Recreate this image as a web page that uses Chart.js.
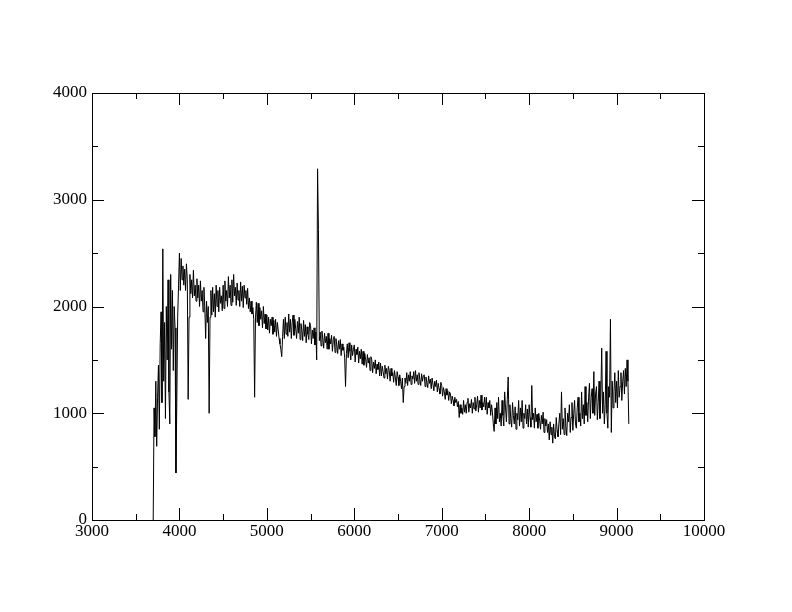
<!DOCTYPE html>
<html>
<head>
<meta charset="utf-8">
<script src="https://cdn.jsdelivr.net/npm/chart.js@4/dist/chart.umd.min.js"></script>
<style>
  html, body { margin: 0; padding: 0; background: #fff; }
  #spec { display: block; }
</style>
</head>
<body>
<canvas id="spec" width="792" height="612"></canvas>
<script>
// wavelength (Angstrom) and flux
const waves = [
  3700, 3710, 3720, 3730, 3740, 3750, 3760, 3770, 3780, 3790,
  3800, 3810, 3820, 3830, 3840, 3850, 3860, 3870, 3880, 3890,
  3900, 3910, 3920, 3930, 3940, 3950, 3960, 3970, 3980, 3990,
  4000, 4010, 4020, 4030, 4040, 4050, 4060, 4070, 4080, 4090,
  4100, 4110, 4120, 4130, 4140, 4150, 4160, 4170, 4180, 4190,
  4200, 4210, 4220, 4230, 4240, 4250, 4260, 4270, 4280, 4290,
  4300, 4310, 4320, 4330, 4340, 4350, 4360, 4370, 4380, 4390,
  4400, 4410, 4420, 4430, 4440, 4450, 4460, 4470, 4480, 4490,
  4500, 4510, 4520, 4530, 4540, 4550, 4560, 4570, 4580, 4590,
  4600, 4610, 4620, 4630, 4640, 4650, 4660, 4670, 4680, 4690,
  4700, 4710, 4720, 4730, 4740, 4750, 4760, 4770, 4780, 4790,
  4800, 4810, 4820, 4830, 4840, 4850, 4860, 4870, 4880, 4890,
  4900, 4910, 4920, 4930, 4940, 4950, 4960, 4970, 4980, 4990,
  5000, 5010, 5020, 5030, 5040, 5050, 5060, 5070, 5080, 5090,
  5100, 5110, 5120, 5130, 5140, 5150, 5160, 5170, 5180, 5190,
  5200, 5210, 5220, 5230, 5240, 5250, 5260, 5270, 5280, 5290,
  5300, 5310, 5320, 5330, 5340, 5350, 5360, 5370, 5380, 5390,
  5400, 5410, 5420, 5430, 5440, 5450, 5460, 5470, 5480, 5490,
  5500, 5510, 5520, 5530, 5540, 5550, 5560, 5570, 5580, 5590,
  5600, 5610, 5620, 5630, 5640, 5650, 5660, 5670, 5680, 5690,
  5700, 5710, 5720, 5730, 5740, 5750, 5760, 5770, 5780, 5790,
  5800, 5810, 5820, 5830, 5840, 5850, 5860, 5870, 5880, 5890,
  5900, 5910, 5920, 5930, 5940, 5950, 5960, 5970, 5980, 5990,
  6000, 6010, 6020, 6030, 6040, 6050, 6060, 6070, 6080, 6090,
  6100, 6110, 6120, 6130, 6140, 6150, 6160, 6170, 6180, 6190,
  6200, 6210, 6220, 6230, 6240, 6250, 6260, 6270, 6280, 6290,
  6300, 6310, 6320, 6330, 6340, 6350, 6360, 6370, 6380, 6390,
  6400, 6410, 6420, 6430, 6440, 6450, 6460, 6470, 6480, 6490,
  6500, 6510, 6520, 6530, 6540, 6550, 6560, 6570, 6580, 6590,
  6600, 6610, 6620, 6630, 6640, 6650, 6660, 6670, 6680, 6690,
  6700, 6710, 6720, 6730, 6740, 6750, 6760, 6770, 6780, 6790,
  6800, 6810, 6820, 6830, 6840, 6850, 6860, 6870, 6880, 6890,
  6900, 6910, 6920, 6930, 6940, 6950, 6960, 6970, 6980, 6990,
  7000, 7010, 7020, 7030, 7040, 7050, 7060, 7070, 7080, 7090,
  7100, 7110, 7120, 7130, 7140, 7150, 7160, 7170, 7180, 7190,
  7200, 7210, 7220, 7230, 7240, 7250, 7260, 7270, 7280, 7290,
  7300, 7310, 7320, 7330, 7340, 7350, 7360, 7370, 7380, 7390,
  7400, 7410, 7420, 7430, 7440, 7450, 7460, 7470, 7480, 7490,
  7500, 7510, 7520, 7530, 7540, 7550, 7560, 7570, 7580, 7590,
  7600, 7610, 7620, 7630, 7640, 7650, 7660, 7670, 7680, 7690,
  7700, 7710, 7720, 7730, 7740, 7750, 7760, 7770, 7780, 7790,
  7800, 7810, 7820, 7830, 7840, 7850, 7860, 7870, 7880, 7890,
  7900, 7910, 7920, 7930, 7940, 7950, 7960, 7970, 7980, 7990,
  8000, 8010, 8020, 8030, 8040, 8050, 8060, 8070, 8080, 8090,
  8100, 8110, 8120, 8130, 8140, 8150, 8160, 8170, 8180, 8190,
  8200, 8210, 8220, 8230, 8240, 8250, 8260, 8270, 8280, 8290,
  8300, 8310, 8320, 8330, 8340, 8350, 8360, 8370, 8380, 8390,
  8400, 8410, 8420, 8430, 8440, 8450, 8460, 8470, 8480, 8490,
  8500, 8510, 8520, 8530, 8540, 8550, 8560, 8570, 8580, 8590,
  8600, 8610, 8620, 8630, 8640, 8650, 8660, 8670, 8680, 8690,
  8700, 8710, 8720, 8730, 8740, 8750, 8760, 8770, 8780, 8790,
  8800, 8810, 8820, 8830, 8840, 8850, 8860, 8870, 8880, 8890,
  8900, 8910, 8920, 8930, 8940, 8950, 8960, 8970, 8980, 8990,
  9000, 9010, 9020, 9030, 9040, 9050, 9060, 9070, 9080, 9090,
  9100, 9110, 9120, 9130, 9140
];
const flux = [
  0, 1050, 780, 1300, 690, 1150, 1450, 850, 1650, 1950,
  1100, 2540, 1300, 1850, 950, 2000, 1500, 2250, 1200, 900,
  2300, 1600, 2150, 1400, 2000, 1800, 440, 1100, 1900, 2200,
  2500, 2150, 2450, 2250, 2380, 2200, 2350, 2150, 2400, 2250,
  1130, 1900, 2300, 2120, 2250, 2080, 2340, 2100, 2200, 2050,
  2260, 2080, 2200, 2000, 2240, 2050, 2150, 1950, 2180, 2000,
  1700, 2050, 1850, 2000, 1000, 1900, 2150, 1920, 2180, 1950,
  2120, 1900, 2200, 2000, 2150, 1950, 2180, 2030, 2100, 1960,
  2200, 1980, 2240, 2050, 2150, 2000, 2280, 2080, 2200, 2010,
  2250, 2040, 2300, 2100, 2180, 2010, 2220, 2060, 2150, 2000,
  2230, 2050, 2190, 1990, 2200, 2080, 2150, 2020, 2170, 1980,
  2080, 1950, 2050, 1930, 1990, 1880, 1150, 1900, 2040, 1850,
  2030, 1820, 1990, 1880, 1960, 1800, 2000, 1840, 1930, 1790,
  1920, 1780, 1900, 1750, 1880, 1820, 1900, 1740, 1870, 1760,
  1880, 1720, 1850, 1780, 1700, 1650, 1600, 1530, 1720, 1880,
  1700, 1900, 1740, 1850, 1720, 1930, 1760, 1880, 1700, 1850,
  1920, 1730, 1880, 1790, 1700, 1860, 1750, 1900, 1690, 1840,
  1780, 1680, 1870, 1720, 1830, 1660, 1810, 1740, 1690, 1850,
  1820, 1650, 1780, 1700, 1800, 1640, 1760, 1500, 3290, 2720,
  1680, 1760, 1630, 1770, 1700, 1610, 1750, 1660, 1720, 1600,
  1750, 1600, 1700, 1650, 1730, 1580, 1690, 1720, 1570, 1700,
  1640, 1560, 1680, 1600, 1690, 1540, 1650, 1590, 1620, 1520,
  1250, 1560, 1650, 1520, 1660, 1580, 1500, 1640, 1540, 1600,
  1640, 1480, 1600, 1550, 1620, 1470, 1580, 1510, 1600, 1460,
  1580, 1450, 1560, 1500, 1430, 1550, 1470, 1520, 1400, 1530,
  1500, 1380, 1480, 1420, 1500, 1370, 1460, 1410, 1480, 1350,
  1470, 1350, 1440, 1390, 1330, 1450, 1370, 1420, 1320, 1440,
  1400, 1300, 1420, 1350, 1380, 1290, 1400, 1330, 1260, 1390,
  1340, 1260, 1360, 1300, 1230, 1330, 1100, 1250, 1330, 1280,
  1380, 1260, 1360, 1300, 1390, 1270, 1350, 1320, 1390, 1280,
  1400, 1300, 1360, 1270, 1380, 1320, 1260, 1370, 1300, 1350,
  1360, 1250, 1340, 1290, 1240, 1350, 1280, 1320, 1230, 1330,
  1330, 1210, 1300, 1250, 1310, 1200, 1280, 1230, 1180, 1290,
  1260, 1160, 1240, 1200, 1130, 1230, 1170, 1210, 1120, 1200,
  1180, 1090, 1160, 1120, 1070, 1150, 1100, 1130, 1060, 1110,
  960, 1080, 1000, 1050, 990, 1120, 1010, 1080, 1000, 1100,
  1140, 1010, 1090, 1050, 1130, 1000, 1100, 1040, 1150, 1020,
  1080, 1160, 1010, 1120, 1050, 1170, 1030, 1100, 1060, 1150,
  1030, 1150, 990, 1100, 1050, 1120, 980, 1080, 1010, 900,
  830, 1050, 900, 1100, 950, 1150, 920, 1000, 880, 1120,
  980, 880, 1200, 1050, 920, 1130, 1340, 900, 1080, 950,
  870, 1100, 980, 900, 1060, 850, 1000, 940, 1120, 880,
  1050, 920, 1120, 860, 1000, 950, 1080, 900, 1040, 870,
  1080, 960, 870, 1260, 940, 1000, 860, 1050, 920, 990,
  860, 1000, 930, 850, 980, 900, 1010, 820, 950, 880,
  940, 820, 900, 750, 920, 800, 870, 720, 900, 780,
  760, 960, 840, 780, 900, 1000, 800, 1200, 850, 950,
  800, 1050, 880, 790, 1000, 920, 1080, 820, 960, 1100,
  840, 1000, 1120, 900, 860, 1050, 1150, 920, 1000, 880,
  1200, 950, 1080, 900, 1250, 980, 1100, 920, 1150, 1280,
  950, 1150, 1230, 1000, 1390, 980, 1180, 1250, 940, 1100,
  1300, 950, 1160, 1610, 1000, 1200, 900, 1080, 1580, 1000,
  860, 1250, 1150, 1880, 820, 1300, 1050, 1200, 1380, 1100,
  1300, 1050, 1400, 1150, 1250, 1380, 1120, 1300, 1400, 1180,
  1420, 1250, 1500, 1300, 900
];
const xTickLabels = [3000, 4000, 5000, 6000, 7000, 8000, 9000, 10000];
const yTickLabels = [0, 1000, 2000, 3000, 4000];

const points = waves.map((w, i) => ({ x: w, y: flux[i] }));

// frame plus inward ticks on all four sides, like the original plot
const frameTicks = {
  id: 'frameTicks',
  afterDraw(chart) {
    const ctx = chart.ctx;
    const a = chart.chartArea;
    const xs = chart.scales.x, ys = chart.scales.y;
    ctx.save();
    ctx.strokeStyle = '#000';
    ctx.lineWidth = 1;
    ctx.strokeRect(Math.round(a.left) + 0.5, Math.round(a.top) + 0.5,
      Math.round(a.right - a.left), Math.round(a.bottom - a.top));
    ctx.beginPath();
    for (let v = 3000; v <= 10000; v += 500) {
      const px = Math.round(xs.getPixelForValue(v)) + 0.5;
      const len = v % 1000 === 0 ? 12 : 6;
      ctx.moveTo(px, a.bottom); ctx.lineTo(px, a.bottom - len);
      ctx.moveTo(px, a.top); ctx.lineTo(px, a.top + len);
    }
    for (let v = 0; v <= 4000; v += 500) {
      const py = Math.round(ys.getPixelForValue(v)) + 0.5;
      const len = v % 1000 === 0 ? 12 : 6;
      ctx.moveTo(a.left, py); ctx.lineTo(a.left + len, py);
      ctx.moveTo(a.right, py); ctx.lineTo(a.right - len, py);
    }
    ctx.stroke();
    ctx.restore();
  }
};

const tickFont = { family: '"Liberation Serif", "DejaVu Serif", serif', size: 17 };

new Chart(document.getElementById('spec'), {
  type: 'line',
  data: {
    datasets: [{
      data: points,
      borderColor: '#000',
      borderWidth: 1,
      pointRadius: 0,
      tension: 0,
      fill: false
    }]
  },
  options: {
    responsive: false,
    animation: false,
    layout: { padding: { left: 0, top: 93, right: 88, bottom: 0 } },
    plugins: { legend: { display: false }, tooltip: { enabled: false } },
    scales: {
      x: {
        type: 'linear',
        min: 3000, max: 10000,
        afterFit(s) { s.height = 92; },
        afterBuildTicks(s) { s.ticks = xTickLabels.map(v => ({ value: v })); },
        grid: { display: false, drawTicks: false },
        border: { display: false },
        ticks: { color: '#000', font: tickFont, padding: 1, maxRotation: 0,
                 callback: v => String(v) }
      },
      y: {
        min: 0, max: 4000,
        afterFit(s) { s.width = 92; },
        afterBuildTicks(s) { s.ticks = yTickLabels.map(v => ({ value: v })); },
        grid: { display: false, drawTicks: false },
        border: { display: false },
        ticks: { color: '#000', font: tickFont, padding: 5,
                 callback: v => String(v) }
      }
    }
  },
  plugins: [frameTicks]
});
</script>
</body>
</html>
